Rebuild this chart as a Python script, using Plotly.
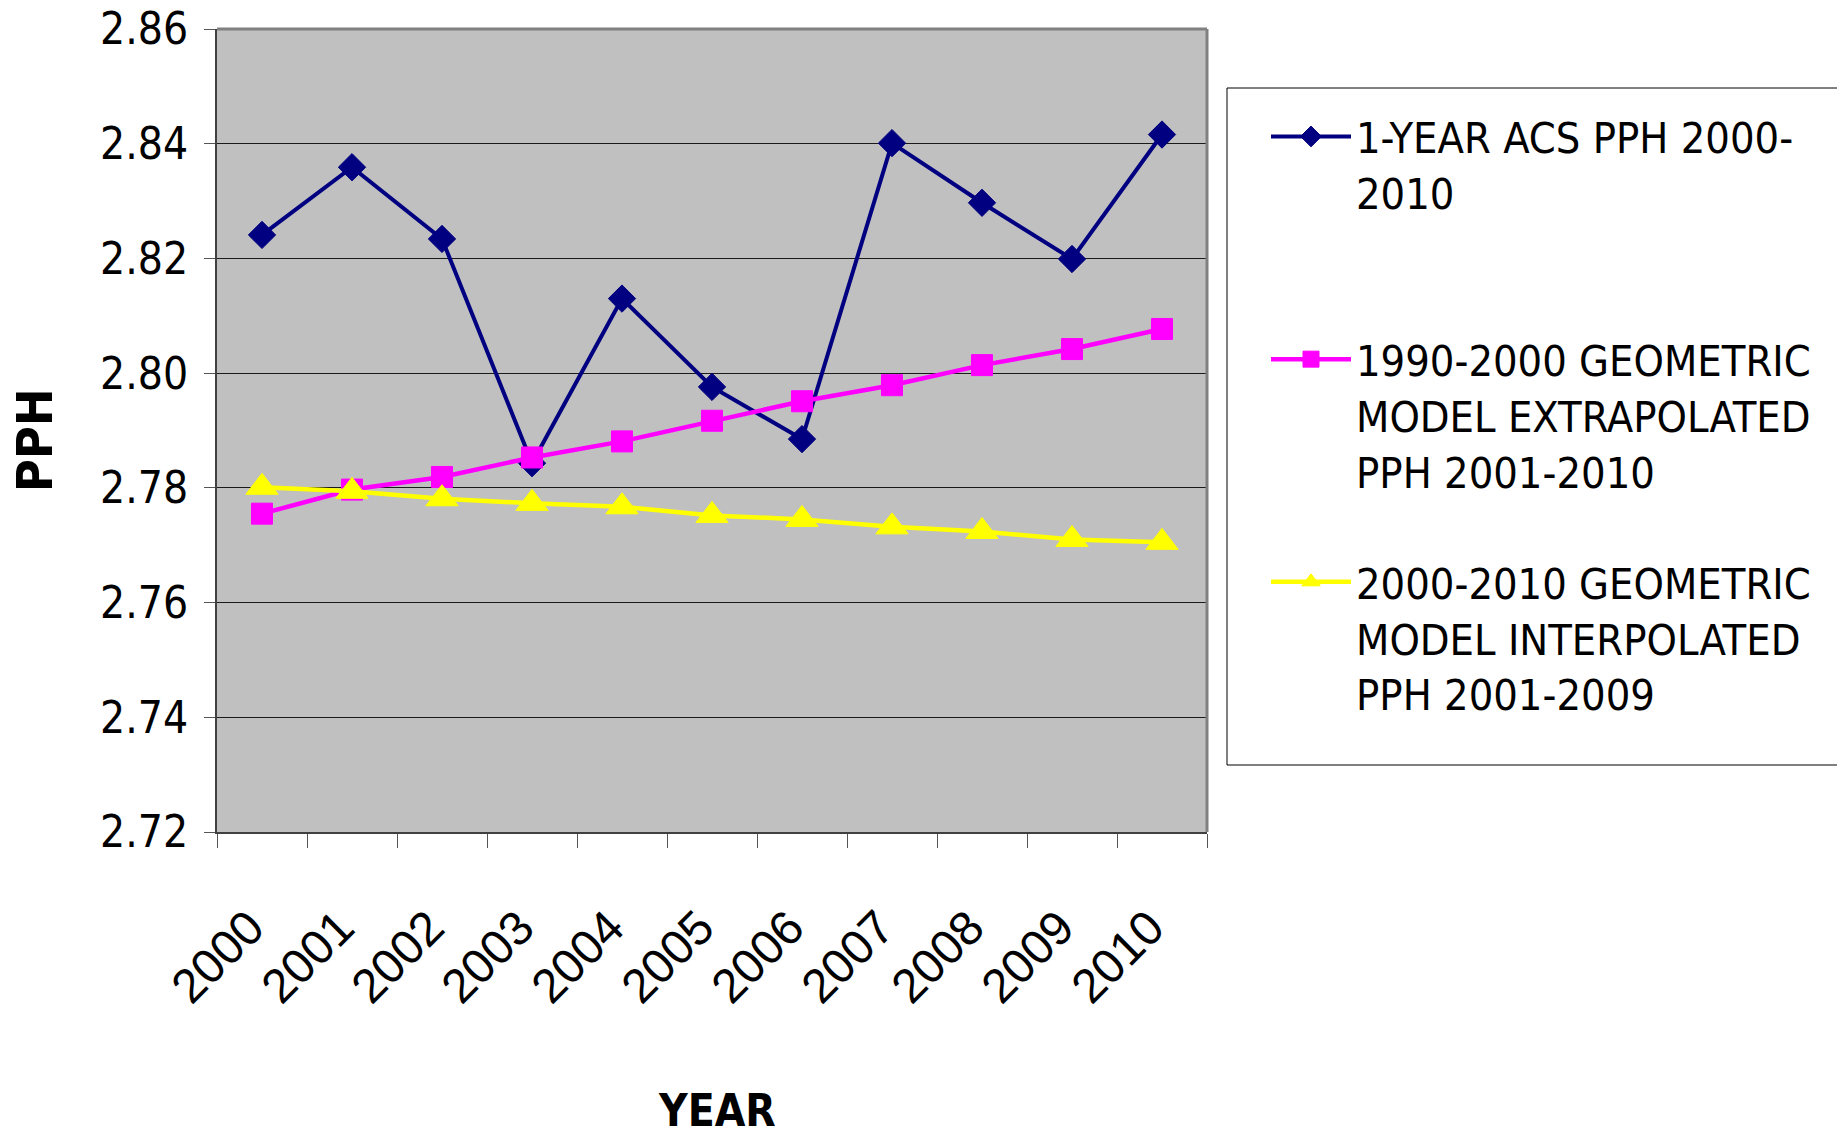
import plotly.graph_objects as go

# ---------------- data ----------------
years = ["2000", "2001", "2002", "2003", "2004", "2005",
         "2006", "2007", "2008", "2009", "2010"]

acs_pph = [2.8241, 2.8359, 2.8234, 2.7843, 2.8130, 2.7976,
           2.7885, 2.8401, 2.8297, 2.8199, 2.8416]
extrapolated_pph = [2.7755, 2.7797, 2.7819, 2.7853, 2.7881, 2.7917,
                    2.7951, 2.7979, 2.8014, 2.8042, 2.8077]
interpolated_pph = [2.7801, 2.7794, 2.7781, 2.7773, 2.7767, 2.7752,
                    2.7745, 2.7732, 2.7724, 2.7710, 2.7705]

series_names = [
    "1-YEAR ACS PPH 2000-<br>2010<br>\u00a0",
    "1990-2000 GEOMETRIC<br>MODEL EXTRAPOLATED<br>PPH 2001-2010",
    "2000-2010 GEOMETRIC<br>MODEL INTERPOLATED<br>PPH 2001-2009",
]

y_tick_values = [2.72, 2.74, 2.76, 2.78, 2.80, 2.82, 2.84, 2.86]
y_tick_labels = ["2.72", "2.74", "2.76", "2.78", "2.80", "2.82", "2.84", "2.86"]

x_title = "YEAR"
y_title = "PPH"

# ---------------- styling ----------------
NARROW = "DejaVu Sans Condensed, Liberation Sans, Arial, sans-serif"
REGULAR = "Liberation Sans, Arial, sans-serif"

W, H = 1837, 1142
ML, MR, MT, MB = 217, 630, 29, 310
PW = W - ML - MR
PH = H - MT - MB


def px_to_paper_x(px):
    return (px - ML) / PW


def px_to_paper_y(py):
    return (H - MB - py) / PH


fig = go.Figure()

fig.add_trace(go.Scatter(
    x=years, y=acs_pph, name=series_names[0], legendgroup="g1",
    mode="lines+markers",
    line=dict(color="#000080", width=4),
    marker=dict(symbol="diamond", size=21, color="#000080",
                line=dict(color="#000080", width=1)),
))
fig.add_trace(go.Scatter(
    x=years, y=extrapolated_pph, name=series_names[1], legendgroup="g2",
    mode="lines+markers",
    line=dict(color="#FF00FF", width=4.5),
    marker=dict(symbol="square", size=21, color="#FF00FF",
                line=dict(color="#FF00FF", width=1)),
))
fig.add_trace(go.Scatter(
    x=years, y=interpolated_pph, name=series_names[2], legendgroup="g3",
    mode="lines+markers",
    line=dict(color="#FFFF00", width=4.5),
    marker=dict(symbol="triangle-up", size=28, color="#FFFF00",
                line=dict(color="#FFFF00", width=1)),
))

fig.update_layout(
    width=W, height=H,
    margin=dict(l=ML, r=MR, t=MT, b=MB, autoexpand=False),
    paper_bgcolor="white",
    plot_bgcolor="#C0C0C0",
    font=dict(family=NARROW, color="black"),
    showlegend=True,
    legend=dict(
        x=px_to_paper_x(1266), xanchor="left",
        y=px_to_paper_y(102), yanchor="top",
        bgcolor="rgba(0,0,0,0)", borderwidth=0,
        font=dict(family=NARROW, size=43, color="black"),
        itemwidth=80, valign="top",
        traceorder="grouped", tracegroupgap=52,
    ),
    xaxis=dict(
        type="category",
        range=[-0.5, 10.5],
        tickson="boundaries",
        ticks="outside", ticklen=14, tickwidth=1, tickcolor="#555555",
        showline=True, linecolor="#404040", linewidth=2,
        showgrid=False, zeroline=False,
        tickangle=-45,
        tickfont=dict(family=REGULAR, size=48, color="black"),
        ticklabelstandoff=46,
        ticklabelshift=-12,
    ),
    yaxis=dict(
        range=[2.72, 2.86],
        tickvals=y_tick_values, ticktext=y_tick_labels,
        ticks="outside", ticklen=11, tickwidth=1, tickcolor="#555555",
        showline=True, linecolor="#404040", linewidth=2,
        showgrid=True, gridcolor="#1a1a1a", gridwidth=1,
        zeroline=False,
        tickfont=dict(family=NARROW, size=44, color="black"),
        ticklabelstandoff=7,
    ),
    annotations=[
        dict(text=f"<b>{x_title}</b>", xref="paper", yref="paper",
             x=px_to_paper_x(717), y=px_to_paper_y(1110),
             xanchor="center", yanchor="middle", showarrow=False,
             font=dict(family=NARROW, size=44, color="black")),
        dict(text=f"<b>{y_title}</b>", xref="paper", yref="paper",
             x=px_to_paper_x(35), y=px_to_paper_y(440),
             xanchor="center", yanchor="middle", showarrow=False,
             textangle=-90,
             font=dict(family=NARROW, size=50, color="black")),
    ],
    shapes=[
        # legend frame (extends past the right edge, as in the original)
        dict(type="rect", xref="paper", yref="paper",
             x0=px_to_paper_x(1227), x1=px_to_paper_x(1900),
             y0=px_to_paper_y(765), y1=px_to_paper_y(88),
             line=dict(color="black", width=1), fillcolor="white",
             layer="below"),
        # plot-area frame (top and right)
        dict(type="line", xref="paper", yref="paper", x0=0, x1=1, y0=1, y1=1,
             line=dict(color="#808080", width=3), layer="above"),
        dict(type="line", xref="paper", yref="paper", x0=1, x1=1, y0=0, y1=1,
             line=dict(color="#808080", width=3), layer="above"),
    ],
)

fig.write_html(
    "out.html",
    config={"displayModeBar": False},
    post_script="document.body.style.margin='0';document.body.style.overflow='hidden';",
)
